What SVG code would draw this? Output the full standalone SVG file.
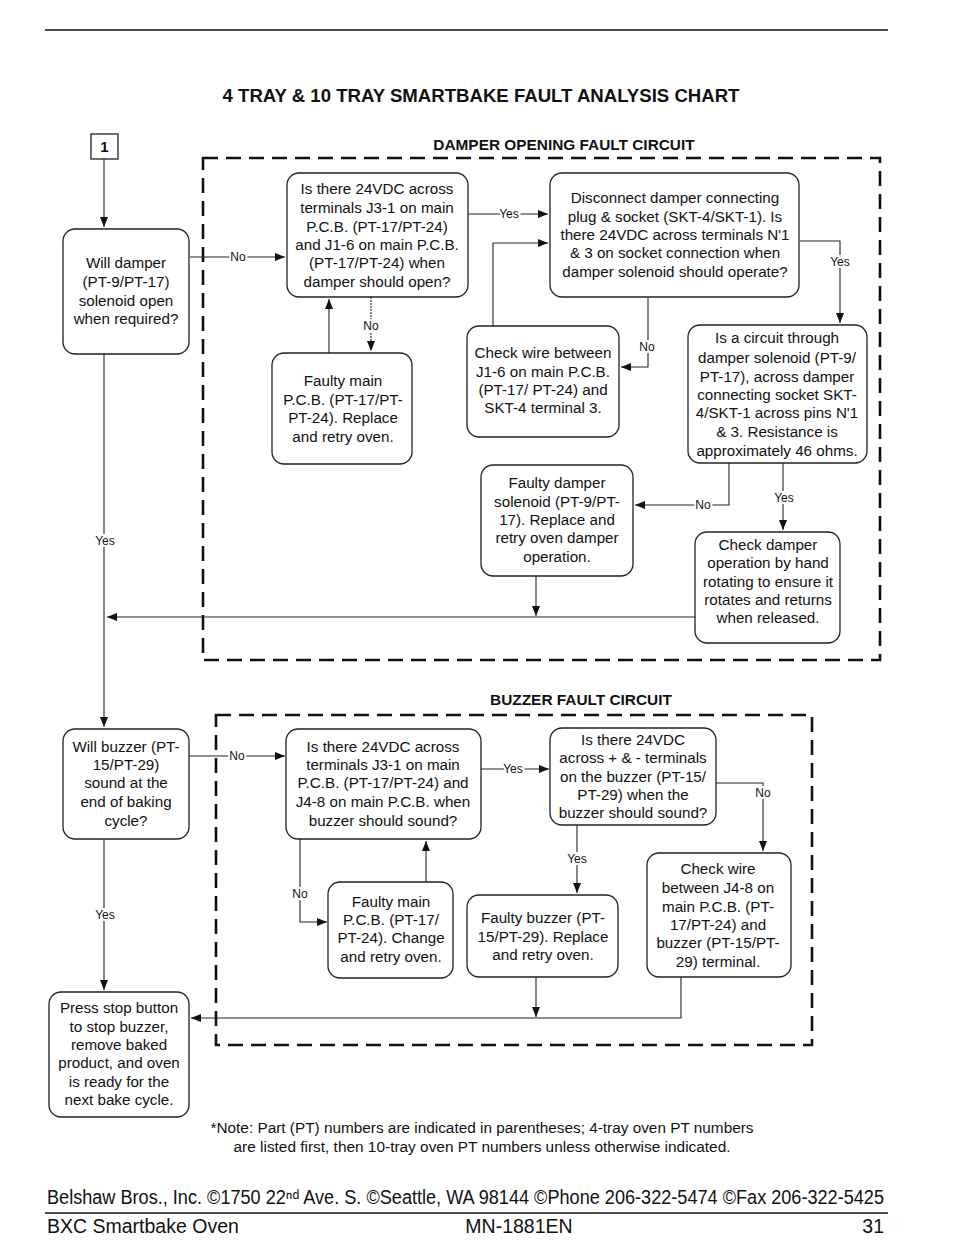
<svg xmlns="http://www.w3.org/2000/svg" width="954" height="1260" viewBox="0 0 954 1260">
<style>
text{font-family:"Liberation Sans",Arial,sans-serif;fill:#111}
.t{font-size:15.2px;text-anchor:middle}
.lb{font-size:12px;text-anchor:middle;paint-order:stroke;stroke:#fff;stroke-width:4px}
.h{font-weight:bold;text-anchor:middle}
.box{fill:#fff;stroke:#222;stroke-width:1.3}
.c{fill:none;stroke:#222;stroke-width:1.1}
.dash{fill:none;stroke:#111;stroke-width:2.6;stroke-dasharray:15 8}
.f{font-size:19.5px}
</style>
<defs>
<marker id="a" viewBox="0 0 10 8" refX="10" refY="4" markerWidth="10" markerHeight="8" markerUnits="userSpaceOnUse" orient="auto">
<path d="M0,0 L10,4 L0,8 z" fill="#111"/>
</marker>
</defs>
<rect width="954" height="1260" fill="#fff"/>
<line x1="45" y1="30" x2="888" y2="30" stroke="#111" stroke-width="1.5"/>
<text class="h" x="481" y="102" style="font-size:18.6px">4 TRAY &amp; 10 TRAY SMARTBAKE FAULT ANALYSIS CHART</text>
<text class="h" x="564" y="150" style="font-size:15.4px">DAMPER OPENING FAULT CIRCUIT</text>
<text class="h" x="581" y="705" style="font-size:15.4px">BUZZER FAULT CIRCUIT</text>
<rect class="dash" x="203" y="158" width="677" height="502"/>
<rect class="dash" x="216" y="715" width="596" height="330"/>

<g id="connectors">
<path class="c" d="M104,159 V227" marker-end="url(#a)"/>
<path class="c" d="M190,257 H285" marker-end="url(#a)"/>
<text class="lb" x="238" y="261">No</text>
<path class="c" d="M468,214 H548" marker-end="url(#a)"/>
<text class="lb" x="509" y="218">Yes</text>
<path class="c" d="M800,241 H840 V323" marker-end="url(#a)"/>
<text class="lb" x="840" y="266">Yes</text>
<path class="c" d="M493,326 V243 H548" marker-end="url(#a)"/>
<path class="c" d="M648,298 V367 H621" marker-end="url(#a)"/>
<text class="lb" x="647" y="351">No</text>
<path class="c" d="M329,353 V299" marker-end="url(#a)"/>
<path class="c" d="M371,297 V351" marker-end="url(#a)" stroke-dasharray="2 1"/>
<text class="lb" x="371" y="330">No</text>
<path class="c" d="M729,463 V505 H635" marker-end="url(#a)"/>
<text class="lb" x="703" y="509">No</text>
<path class="c" d="M783,463 V530" marker-end="url(#a)"/>
<text class="lb" x="784" y="502">Yes</text>
<path class="c" d="M536,576 V616" marker-end="url(#a)"/>
<path class="c" d="M695,617 H107" marker-end="url(#a)"/>
<path class="c" d="M104,354 V727" marker-end="url(#a)"/>
<text class="lb" x="105" y="545">Yes</text>

<path class="c" d="M189,756 H285" marker-end="url(#a)"/>
<text class="lb" x="237" y="760">No</text>
<path class="c" d="M481,769 H549" marker-end="url(#a)"/>
<text class="lb" x="513" y="773">Yes</text>
<path class="c" d="M300,839 V922 H327" marker-end="url(#a)"/>
<text class="lb" x="300" y="898">No</text>
<path class="c" d="M426,882 V841" marker-end="url(#a)"/>
<path class="c" d="M716,783 H763 V851" marker-end="url(#a)"/>
<text class="lb" x="763" y="797">No</text>
<path class="c" d="M577,825 V893" marker-end="url(#a)"/>
<text class="lb" x="577" y="863">Yes</text>
<path class="c" d="M536,977 V1017" marker-end="url(#a)"/>
<path class="c" d="M681,977 V1018 H191" marker-end="url(#a)"/>
<path class="c" d="M104,839 V990" marker-end="url(#a)"/>
<text class="lb" x="105" y="919">Yes</text>
</g>

<g id="n1"><rect x="91" y="134" width="27" height="25" fill="#fff" stroke="#222" stroke-width="1.3"/><text class="h" x="104.5" y="152" style="font-size:15px">1</text></g>

<g id="willDamper"><rect class="box" x="63" y="229" width="126" height="125" rx="12"/>
<text class="t" x="126" y="268">Will damper</text><text class="t" x="126" y="287">(PT-9/PT-17)</text><text class="t" x="126" y="306">solenoid open</text><text class="t" x="126" y="324">when required?</text></g>

<g id="is24a"><rect class="box" x="287" y="173" width="181" height="124" rx="12"/>
<text class="t" x="377" y="194">Is there 24VDC across</text><text class="t" x="377" y="213">terminals J3-1 on main</text><text class="t" x="377" y="232">P.C.B. (PT-17/PT-24)</text><text class="t" x="377" y="250">and J1-6 on main P.C.B.</text><text class="t" x="377" y="268">(PT-17/PT-24) when</text><text class="t" x="377" y="287">damper should open?</text></g>

<g id="disconnect"><rect class="box" x="550" y="173" width="249" height="124" rx="12"/>
<text class="t" x="675" y="203">Disconnect damper connecting</text><text class="t" x="675" y="222">plug &amp; socket (SKT-4/SKT-1). Is</text><text class="t" x="675" y="240">there 24VDC across terminals N'1</text><text class="t" x="675" y="258">&amp; 3 on socket connection when</text><text class="t" x="675" y="277">damper solenoid should operate?</text></g>

<g id="faultyMain1"><rect class="box" x="272" y="353" width="140" height="111" rx="12"/>
<text class="t" x="343" y="386">Faulty main</text><text class="t" x="343" y="405">P.C.B. (PT-17/PT-</text><text class="t" x="343" y="423">PT-24). Replace</text><text class="t" x="343" y="442">and retry oven.</text></g>

<g id="checkWire1"><rect class="box" x="467" y="326" width="152" height="111" rx="12"/>
<text class="t" x="543" y="358">Check wire between</text><text class="t" x="543" y="377">J1-6 on main P.C.B.</text><text class="t" x="543" y="395">(PT-17/ PT-24) and</text><text class="t" x="543" y="413">SKT-4 terminal 3.</text></g>

<g id="circuit"><rect class="box" x="688" y="325" width="179" height="138" rx="12"/>
<text class="t" x="777" y="343">Is a circuit through</text><text class="t" x="777" y="363">damper solenoid (PT-9/</text><text class="t" x="777" y="382">PT-17), across damper</text><text class="t" x="777" y="400">connecting socket SKT-</text><text class="t" x="777" y="418">4/SKT-1 across pins N'1</text><text class="t" x="777" y="437">&amp; 3. Resistance is</text><text class="t" x="777" y="456">approximately 46 ohms.</text></g>

<g id="faultyDamper"><rect class="box" x="481" y="465" width="152" height="111" rx="12"/>
<text class="t" x="557" y="488">Faulty damper</text><text class="t" x="557" y="507">solenoid (PT-9/PT-</text><text class="t" x="557" y="525">17). Replace and</text><text class="t" x="557" y="543">retry oven damper</text><text class="t" x="557" y="562">operation.</text></g>

<g id="checkDamper"><rect class="box" x="695" y="532" width="145" height="111" rx="12"/>
<text class="t" x="768" y="550">Check damper</text><text class="t" x="768" y="568">operation by hand</text><text class="t" x="768" y="587">rotating to ensure it</text><text class="t" x="768" y="605">rotates and returns</text><text class="t" x="768" y="623">when released.</text></g>

<g id="willBuzzer"><rect class="box" x="63" y="729" width="126" height="110" rx="12"/>
<text class="t" x="126" y="752">Will buzzer (PT-</text><text class="t" x="126" y="770">15/PT-29)</text><text class="t" x="126" y="788">sound at the</text><text class="t" x="126" y="807">end of baking</text><text class="t" x="126" y="826">cycle?</text></g>

<g id="is24b"><rect class="box" x="286" y="729" width="195" height="110" rx="12"/>
<text class="t" x="383" y="752">Is there 24VDC across</text><text class="t" x="383" y="770">terminals J3-1 on main</text><text class="t" x="383" y="788">P.C.B. (PT-17/PT-24) and</text><text class="t" x="383" y="807">J4-8 on main P.C.B. when</text><text class="t" x="383" y="826">buzzer should sound?</text></g>

<g id="is24c"><rect class="box" x="550" y="728" width="166" height="97" rx="12"/>
<text class="t" x="633" y="745">Is there 24VDC</text><text class="t" x="633" y="763">across + &amp; - terminals</text><text class="t" x="633" y="782">on the buzzer (PT-15/</text><text class="t" x="633" y="800">PT-29) when the</text><text class="t" x="633" y="818">buzzer should sound?</text></g>

<g id="faultyMain2"><rect class="box" x="328" y="882" width="125" height="96" rx="12"/>
<text class="t" x="391" y="907">Faulty main</text><text class="t" x="391" y="925">P.C.B. (PT-17/</text><text class="t" x="391" y="943">PT-24). Change</text><text class="t" x="391" y="962">and retry oven.</text></g>

<g id="faultyBuzzer"><rect class="box" x="467" y="895" width="151" height="82" rx="12"/>
<text class="t" x="543" y="923">Faulty buzzer (PT-</text><text class="t" x="543" y="942">15/PT-29). Replace</text><text class="t" x="543" y="960">and retry oven.</text></g>

<g id="checkWire2"><rect class="box" x="647" y="853" width="144" height="124" rx="12"/>
<text class="t" x="718" y="874">Check wire</text><text class="t" x="718" y="893">between J4-8 on</text><text class="t" x="718" y="912">main P.C.B. (PT-</text><text class="t" x="718" y="930">17/PT-24) and</text><text class="t" x="718" y="948">buzzer (PT-15/PT-</text><text class="t" x="718" y="967">29) terminal.</text></g>

<g id="pressStop"><rect class="box" x="49" y="992" width="140" height="125" rx="12"/>
<text class="t" x="119" y="1013">Press stop button</text><text class="t" x="119" y="1032">to stop buzzer,</text><text class="t" x="119" y="1050">remove baked</text><text class="t" x="119" y="1068">product, and oven</text><text class="t" x="119" y="1087">is ready for the</text><text class="t" x="119" y="1105">next bake cycle.</text></g>

<text x="482" y="1133" style="font-size:14px;text-anchor:middle" textLength="543" lengthAdjust="spacingAndGlyphs">*Note: Part (PT) numbers are indicated in parentheses; 4-tray oven PT numbers</text>
<text x="482" y="1152" style="font-size:14px;text-anchor:middle" textLength="497" lengthAdjust="spacingAndGlyphs">are listed first, then 10-tray oven PT numbers unless otherwise indicated.</text>

<text class="f" x="47" y="1204" textLength="837" lengthAdjust="spacingAndGlyphs">Belshaw Bros., Inc. ©1750 22ⁿᵈ Ave. S. ©Seattle, WA 98144 ©Phone 206-322-5474 ©Fax 206-322-5425</text>
<line x1="45" y1="1213" x2="888" y2="1213" stroke="#111" stroke-width="1.5"/>
<text class="f" x="47" y="1233">BXC Smartbake Oven</text>
<text class="f" x="519" y="1233" style="text-anchor:middle">MN-1881EN</text>
<text class="f" x="884" y="1233" style="text-anchor:end">31</text>
</svg>
